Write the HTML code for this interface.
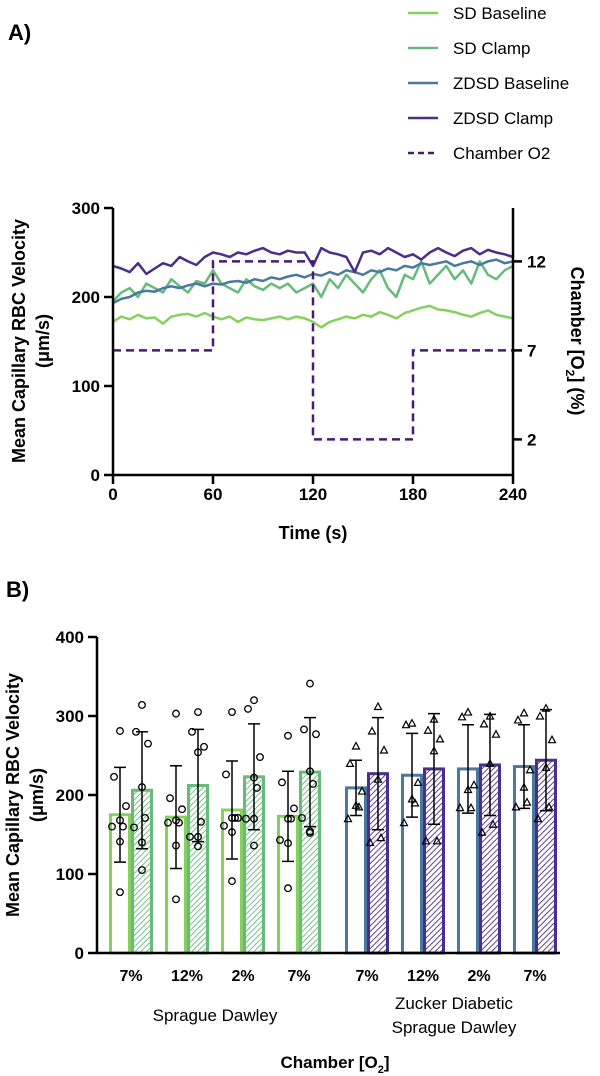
<!DOCTYPE html>
<html><head><meta charset="utf-8"><style>
html,body{margin:0;padding:0;background:#fff}
svg{display:block;font-family:"Liberation Sans",Arial,sans-serif}
</style></head><body>
<svg id="fig" width="600" height="1076" viewBox="0 0 600 1076" xmlns="http://www.w3.org/2000/svg">
<defs>
<pattern id="hatchG" patternUnits="userSpaceOnUse" width="4" height="4" patternTransform="rotate(45)"><rect width="4" height="4" fill="#fff"/><line x1="0" y1="0" x2="0" y2="4" stroke="#66bb7a" stroke-width="1.8"/></pattern>
<pattern id="hatchP" patternUnits="userSpaceOnUse" width="4" height="4" patternTransform="rotate(45)"><rect width="4" height="4" fill="#fff"/><line x1="0" y1="0" x2="0" y2="4" stroke="#4b2e8a" stroke-width="1.8"/></pattern>
</defs>
<text x="8" y="40" font-size="22" font-weight="bold">A)</text>
<text x="6" y="597" font-size="22" font-weight="bold">B)</text>
<g id="legend"></g>
<g id="chartA"></g>
<g id="chartB"></g>
</svg>
<script>
// ---- Panel A data ----
const times = [0,5,10,15,20,25,30,35,40,45,50,55,60,65,70,75,80,85,90,95,100,105,110,115,120,125,130,135,140,145,150,155,160,165,170,175,180,185,190,195,200,205,210,215,220,225,230,235,240];
const sdBaseline = [172,178,175,180,176,177,170,178,180,181,178,182,178,175,178,172,177,175,174,176,178,175,178,176,172,166,172,175,178,176,180,178,183,180,176,182,185,188,190,186,185,183,180,178,182,185,180,178,176];
const sdClamp = [195,205,210,200,215,210,205,220,212,205,218,215,230,215,210,205,220,212,208,215,210,215,205,210,215,200,220,210,225,215,205,220,230,210,200,225,220,240,215,225,235,220,230,215,240,225,220,230,235];
const zdsdBaseline = [193,198,200,205,207,206,210,212,210,213,215,212,215,214,217,218,216,220,218,222,220,223,225,222,226,224,228,225,230,228,225,230,228,232,230,235,233,238,236,238,240,235,238,240,236,240,242,238,240];
const zdsdClamp = [235,232,228,238,226,232,238,235,245,240,236,245,250,248,245,250,248,252,255,250,248,252,250,250,235,255,250,248,245,228,250,252,248,255,250,245,248,242,250,255,250,246,252,255,248,253,250,248,245];
const o2Times = [0,60,120,180,240];
const o2Levels = [7,12,2,7];
const xTicksA = [0,60,120,180,240];
const yTicksA = [0,100,200,300];
const y2TicksA = [2,7,12];

// ---- Panel B data ----
const groups = ["7%","12%","2%","7%","7%","12%","2%","7%"];
const baselineMeans = [175,172,181,173,209,225,233,236];
const clampMeans = [206,212,223,229,227,233,238,244];
const baselineSD = [60,65,62,57,35,53,56,53];
const clampSD = [74,71,67,69,71,70,64,64];
const baselinePts = [[281,223,186,168,160,160,141,77],[303,196,182,168,165,165,136,68],[305,226,171,171,171,161,153,91],[275,216,183,170,170,143,139,82],[262,240,205,187,185,170],[291,289,216,195,190,165],[305,299,213,207,184,184],[304,295,232,210,191,185]];
const clampPts = [[314,280,265,210,171,159,140,105],[305,280,261,254,166,147,147,135],[320,309,248,222,209,170,170,136],[341,283,277,230,214,171,154,152],[312,281,257,220,146,140],[296,282,271,256,142,142],[300,290,277,240,163,153],[310,300,270,235,185,170]];
const yTicksB = [0,100,200,300,400];

const NS="http://www.w3.org/2000/svg";
function mk(tag,attrs,parent,text){const e=document.createElementNS(NS,tag);for(const k in attrs)e.setAttribute(k,attrs[k]);if(text!==undefined)e.textContent=text;parent.appendChild(e);return e;}

// ---- Legend ----
const leg=document.getElementById('legend');
const legItems=[["SD Baseline","#86d05e",""],["SD Clamp","#66bb7a",""],["ZDSD Baseline","#4a78a0",""],["ZDSD Clamp","#4b2e8a",""],["Chamber O2","#4a1a6e","6,4"]];
legItems.forEach((it,i)=>{
  const y=13+i*35;
  const g=mk('g',{},leg);
  
  
  const l=mk('line',{x1:408,x2:438,y1:y,y2:y,stroke:it[1],'stroke-width':2.5},g);
  if(it[2])l.setAttribute('stroke-dasharray',it[2]);
  mk('text',{x:453,y:y+6,'font-size':17},g,it[0]);
});

// ---- Panel A ----
const A=document.getElementById('chartA');
const ax0=113, ax1=513, ayTop=208, ayBot=475;
const xA=t=>ax0+(t/240)*(ax1-ax0);
const yA=v=>ayBot-(v/300)*(ayBot-ayTop);
const yA2=v=>ayBot-(v/15)*(ayBot-ayTop);
function series(vals,color,name){
  const d=vals.map((v,i)=>(i?'L':'M')+xA(times[i]).toFixed(1)+','+yA(v).toFixed(1)).join('');
  const p=mk('path',{d:d,fill:'none',stroke:color,'stroke-width':2.5,'stroke-linejoin':'round'},A);
  
  
}
series(sdBaseline,'#86d05e','sd-baseline-line');
series(sdClamp,'#66bb7a','sd-clamp-line');
series(zdsdBaseline,'#4a78a0','zdsd-baseline-line');
series(zdsdClamp,'#4b2e8a','zdsd-clamp-line');
let od='';
o2Levels.forEach((lv,i)=>{od+=(i?'L':'M')+xA(o2Times[i])+','+yA2(lv)+'L'+xA(o2Times[i+1])+','+yA2(lv);});
const op=mk('path',{d:od,fill:'none',stroke:'#4a1a6e','stroke-width':2.5,'stroke-dasharray':'8,5'},A);


mk('path',{d:`M${ax0},${ayTop}V${ayBot}H${ax1}V${ayTop}`,fill:'none',stroke:'#000','stroke-width':2.5},A);
yTicksA.forEach(v=>{mk('line',{x1:ax0-9,x2:ax0,y1:yA(v),y2:yA(v),stroke:'#000','stroke-width':2.5},A);
  const t=mk('text',{x:ax0-13,y:yA(v)+6,'font-size':17,'font-weight':'bold','text-anchor':'end'},A,v);
  });
y2TicksA.forEach(v=>{mk('line',{x1:ax1,x2:ax1+9,y1:yA2(v),y2:yA2(v),stroke:'#000','stroke-width':2.5},A);
  const t=mk('text',{x:ax1+14,y:yA2(v)+6,'font-size':17,'font-weight':'bold'},A,v);
  });
xTicksA.forEach(v=>{mk('line',{x1:xA(v),x2:xA(v),y1:ayBot,y2:ayBot+9,stroke:'#000','stroke-width':2.5},A);
  const t=mk('text',{x:xA(v),y:ayBot+25,'font-size':17,'font-weight':'bold','text-anchor':'middle'},A,v);
  });
let t;
t=mk('text',{x:313,y:539,'font-size':18,'font-weight':'bold','text-anchor':'middle'},A,'Time (s)');

t=mk('text',{transform:'translate(25,341) rotate(-90)','font-size':18,'font-weight':'bold','text-anchor':'middle'},A,'Mean Capillary RBC Velocity');

t=mk('text',{transform:'translate(49,341) rotate(-90)','font-size':18,'font-weight':'bold','text-anchor':'middle'},A,'(μm/s)');

t=mk('text',{transform:'translate(571,341) rotate(90)','font-size':18,'font-weight':'bold','text-anchor':'middle'},A);
t.innerHTML='Chamber [O<tspan font-size="12" dy="5">2</tspan><tspan dy="-5">] (%)</tspan>';


// ---- Panel B ----
const B=document.getElementById('chartB');
const bx0=97, bx1=560, byTop=637, byBot=953;
const yB=v=>byBot-(v/400)*(byBot-byTop);
const groupX=i=>109+i*56+(i>=4?12:0);
const bw=22;
const jit=[0,-6,6,-3,3,-8,8,0];
groups.forEach((g,i)=>{
  const gx=groupX(i);
  const sd=i<4;
  const cBase=sd?'#86d05e':'#4a78a0', cClamp=sd?'#66bb7a':'#4b2e8a';
  const r1=mk('rect',{x:gx+1.5,y:yB(baselineMeans[i]),width:bw-3,height:byBot-yB(baselineMeans[i]),fill:'#fff',stroke:cBase,'stroke-width':3},B);
  
  const r2=mk('rect',{x:gx+bw+1.5,y:yB(clampMeans[i]),width:bw-3,height:byBot-yB(clampMeans[i]),fill:sd?'url(#hatchG)':'url(#hatchP)',stroke:cClamp,'stroke-width':3},B);
  
  [[gx+bw/2,baselineMeans[i],baselineSD[i],baselinePts[i]],[gx+bw*1.5,clampMeans[i],clampSD[i],clampPts[i]]].forEach(([cx,m,s,pts])=>{
    const hi=yB(m+s), lo=yB(m-s);
    mk('path',{d:`M${cx},${hi}V${lo}M${cx-6},${hi}H${cx+6}M${cx-6},${lo}H${cx+6}`,stroke:'#000','stroke-width':1.5,fill:'none'},B);
    pts.forEach((p,k)=>{
      const px=cx+jit[k%8]*(k%3===0?0:1), py=yB(p);
      if(sd){const c=mk('circle',{cx:px,cy:py,r:3.3,fill:'none',stroke:'#000','stroke-width':1.3},B);
        }
      else{const c=mk('path',{d:`M${px},${py-3.5}L${px+3.5},${py+3}L${px-3.5},${py+3}Z`,fill:'none',stroke:'#000','stroke-width':1.2},B);
        }
    });
  });
  const lt=mk('text',{x:gx+bw,y:981,'font-size':16,'font-weight':'bold','text-anchor':'middle'},B,g);
  
});
mk('path',{d:`M${bx0},${byTop}V${byBot}H${bx1}`,fill:'none',stroke:'#000','stroke-width':2.5},B);
yTicksB.forEach(v=>{mk('line',{x1:bx0-9,x2:bx0,y1:yB(v),y2:yB(v),stroke:'#000','stroke-width':2.5},B);
  const tt=mk('text',{x:bx0-13,y:yB(v)+6,'font-size':17,'font-weight':'bold','text-anchor':'end'},B,v);
  });
t=mk('text',{transform:'translate(19,795) rotate(-90)','font-size':18,'font-weight':'bold','text-anchor':'middle'},B,'Mean Capillary RBC Velocity');

t=mk('text',{transform:'translate(43,795) rotate(-90)','font-size':18,'font-weight':'bold','text-anchor':'middle'},B,'(μm/s)');

t=mk('text',{x:215,y:1021,'font-size':17,'text-anchor':'middle'},B,'Sprague Dawley');

t=mk('text',{x:454,y:1009,'font-size':17,'text-anchor':'middle'},B,'Zucker Diabetic');

t=mk('text',{x:454,y:1033,'font-size':17,'text-anchor':'middle'},B,'Sprague Dawley');

t=mk('text',{x:335,y:1068,'font-size':17,'font-weight':'bold','text-anchor':'middle'},B);
t.innerHTML='Chamber [O<tspan font-size="11" dy="5">2</tspan><tspan dy="-5">]</tspan>';

</script>
</body></html>
